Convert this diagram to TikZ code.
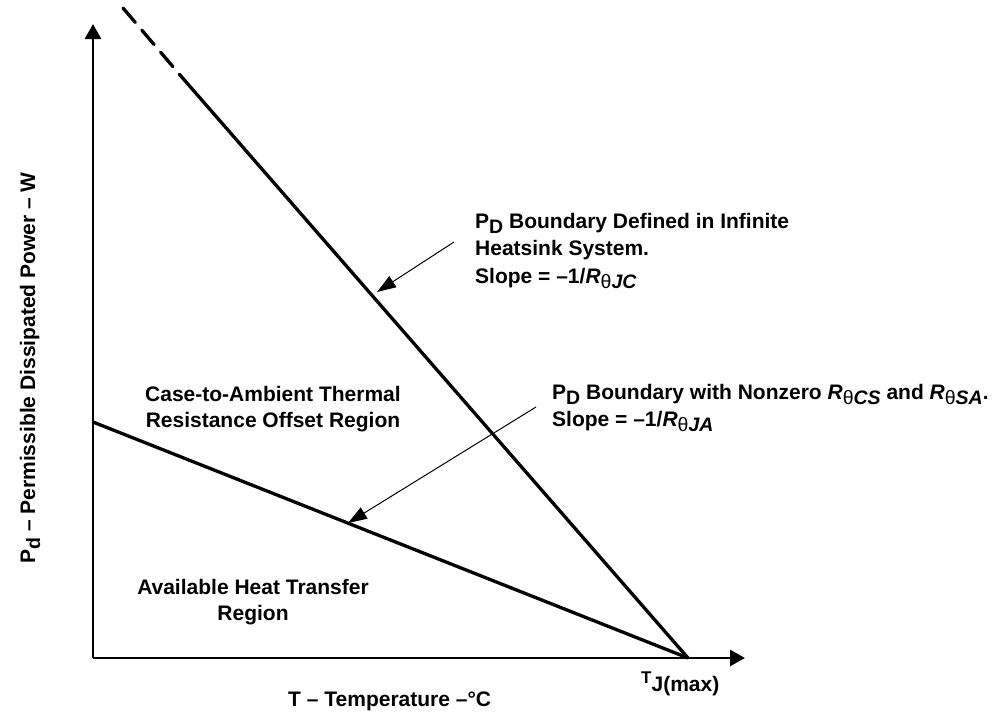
\documentclass[tikz,border=0pt]{standalone}
\usepackage{fontspec}
\setmainfont{Liberation Sans}
\usetikzlibrary{arrows.meta}
\newcommand{\lowsub}[1]{\raisebox{-5pt}{\fontsize{19.5}{19.5}\selectfont #1}}
\newcommand{\Rth}[1]{\textit{R}\lowsub{{\fontseries{m}\selectfont θ}\textit{#1}}}
\tikzset{
  lbl/.style={font=\fontsize{21}{27.5}\selectfont\bfseries, inner sep=0pt, align=left},
  cbl/.style={font=\fontsize{21}{26}\selectfont\bfseries, inner sep=0pt, align=center},
  axis/.style={line width=2.7pt, -{Triangle[length=15pt,width=16pt]}},
  bound/.style={line width=3.3pt},
  leader/.style={line width=1pt, -{Triangle[length=19pt,width=13pt]}}
}
\begin{document}
\begin{tikzpicture}[x=1pt,y=-1pt]
\useasboundingbox (0,0) rectangle (997,713);
% axes
\coordinate (O) at (93,658);
\coordinate (ytop) at (93,24);
\coordinate (xend) at (745,658);
\draw[axis] (O) -- (ytop);
\draw[axis] (O) -- (xend);
% boundaries
\coordinate (Tj) at (688,658);
\coordinate (dtop) at (123,8);
\coordinate (dbot) at (180,75);
\coordinate (lowstart) at (93,422);
\draw[bound] (dbot) -- (Tj);
\draw[bound, dash pattern=on 19pt off 10pt, line cap=round] (dtop) -- (dbot);
\draw[bound] (lowstart) -- (Tj);
% labels
\node[lbl, anchor=base west] (t1) at (475,283)
  {P\lowsub{D} Boundary Defined in Infinite\\Heatsink System.\\Slope = –1/\Rth{JC}};
\node[lbl, anchor=base west] (t2) at (552,426.5)
  {P\lowsub{D} Boundary with Nonzero \Rth{CS} and \Rth{SA}.\\Slope = –1/\Rth{JA}};
\node[cbl, anchor=base] (r1) at (273,427) {Case-to-Ambient Thermal\\Resistance Offset Region};
\node[cbl, anchor=base] (r2) at (253,620) {Available Heat Transfer\\Region};
\node[lbl, anchor=base west] (xl) at (288,706) {T – Temperature –°C};
\node[lbl, anchor=base west] (tj) at (641,683) {{\fontsize{17}{17}\selectfont T}\raisebox{-8pt}{J(max)}};
\node[lbl, anchor=base, rotate=90] (yl) at (35,368) {P\lowsub{d} – Permissible Dissipated Power – W};
% leaders
\coordinate (a1s) at (454,242);
\coordinate (a1e) at (377,292);
\coordinate (a2s) at (536,407);
\coordinate (a2e) at (348,523);
\draw[leader] (a1s) -- (a1e);
\draw[leader] (a2s) -- (a2e);
\end{tikzpicture}
\end{document}
